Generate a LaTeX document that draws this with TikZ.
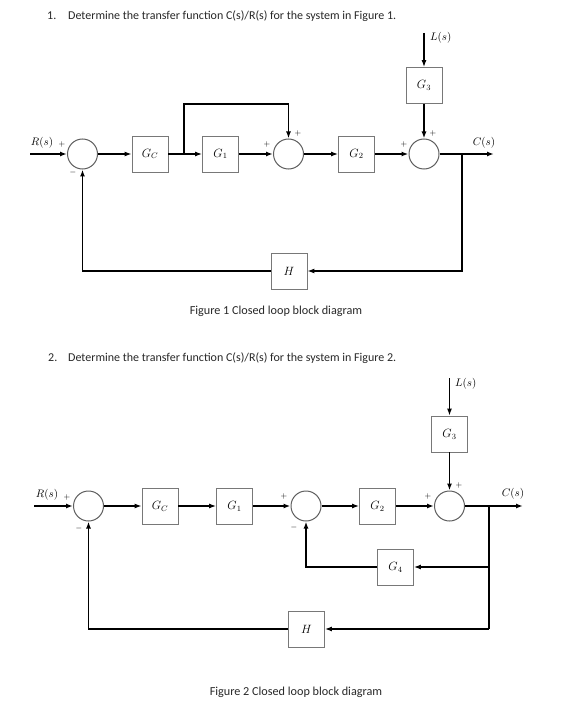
\documentclass[tikz,border=0pt]{standalone}
\usepackage{fontspec}
\newfontfamily\calib{Carlito}
\usetikzlibrary{arrows.meta}
\definecolor{boxgray}{RGB}{120,120,120}
\definecolor{sumgray}{RGB}{95,95,95}
\definecolor{txtc}{RGB}{40,40,40}
\begin{document}
\begin{tikzpicture}[x=1pt,y=-1pt,
  blk/.style={draw=boxgray, line width=0.8pt, minimum width=36pt, minimum height=36pt, inner sep=0pt, font=\fontsize{11.5}{13}\selectfont},
  sumj/.style={draw=sumgray, line width=1pt, circle, minimum size=30pt, inner sep=0pt},
  sig/.style={line width=1.5pt, -{Latex[length=7pt,width=5pt]}},
  sgn/.style={font=\fontsize{8}{9}\selectfont, inner sep=0pt},
  lbl/.style={font=\fontsize{11}{13}\selectfont, inner sep=0pt},
  txt/.style={font=\calib\fontsize{12}{14}\selectfont, text=txtc, inner sep=0pt, anchor=west},
  captxt/.style={font=\calib\fontsize{12.2}{14}\selectfont, text=txtc, inner sep=0pt}
]
\fill[white] (0,0) rectangle (576,714);
\useasboundingbox (0,0) rectangle (576,714);

% ---------------- Figure 1 ----------------
\node[txt] (q1n) at (47,16) {1.};
\node[txt] (q1) at (68,16) {Determine the transfer function C(s)/R(s) for the system in Figure 1.};
\coordinate (a_in) at (30,154);
\node[sumj] (a_s1) at (82.5,154) {};
\node[blk] (a_gc) at (150,154) {$G_C$};
\coordinate (a_b1) at (184,154);
\node[blk] (a_g1) at (220.5,154) {$G_1$};
\node[sumj] (a_s2) at (288.5,154) {};
\node[blk] (a_g2) at (356.5,154) {$G_2$};
\node[sumj] (a_s3) at (424,154) {};
\node[blk] (a_g3) at (424,85.5) {$G_3$};
\coordinate (a_L) at (424,33);
\coordinate (a_b2) at (462,154);
\coordinate (a_out) at (494,154);
\node[blk] (a_h) at (289,271) {$H$};
\coordinate (a_c1) at (184,104);
\coordinate (a_c2) at (288.5,104);
\coordinate (a_c3) at (462,271);
\coordinate (a_c4) at (82.5,271);

\draw[sig] (a_in) -- (a_s1);
\draw[sig] (a_s1) -- (a_gc);
\draw[sig] (a_gc) -- (a_g1);
\draw[sig] (a_g1) -- (a_s2);
\draw[sig] (a_b1) -- (a_c1) -- (a_c2) -- (a_s2);
\draw[sig] (a_s2) -- (a_g2);
\draw[sig] (a_g2) -- (a_s3);
\draw[sig] (a_L) -- (a_g3);
\draw[sig] (a_g3) -- (a_s3);
\draw[sig] (a_s3) -- (a_out);
\draw[sig] (a_b2) -- (a_c3) -- (a_h);
\draw[sig] (a_h) -- (a_c4) -- (a_s1);

\node[lbl] (a_R) at (42,143) {$R(s)$};
\node[sgn] (a_p1) at (62,145) {$+$};
\node[sgn] (a_m1) at (73,173) {$-$};
\node[sgn] (a_p2) at (267,145) {$+$};
\node[sgn] (a_p3) at (298,134) {$+$};
\node[sgn] (a_p4) at (404,145) {$+$};
\node[sgn] (a_p5) at (433,134) {$+$};
\node[lbl, anchor=west] (a_Ll) at (430,38) {$L(s)$};
\node[lbl] (a_C) at (484,143) {$C(s)$};
\node[captxt] (cap1) at (276,311) {Figure 1 Closed loop block diagram};

% ---------------- Figure 2 ----------------
\node[txt] (q2n) at (48,358) {2.};
\node[txt] (q2) at (68,358) {Determine the transfer function C(s)/R(s) for the system in Figure 2.};
\coordinate (b_in) at (34,506);
\node[sumj] (b_s1) at (88.5,506) {};
\node[blk] (b_gc) at (160,506) {$G_C$};
\node[blk] (b_g1) at (234.5,506) {$G_1$};
\node[sumj] (b_s2) at (306,506) {};
\node[blk] (b_g2) at (377.5,506) {$G_2$};
\node[sumj] (b_s3) at (449.5,506) {};
\node[blk] (b_g3) at (449.5,434) {$G_3$};
\coordinate (b_L) at (449.5,378);
\coordinate (b_b2) at (489,506);
\coordinate (b_out) at (523,506);
\node[blk] (b_g4) at (395.5,567) {$G_4$};
\node[blk] (b_h) at (306.5,629) {$H$};
\coordinate (b_c1) at (489,567);
\coordinate (b_c2) at (306,567);
\coordinate (b_c3) at (489,629);
\coordinate (b_c4) at (88.5,629);

\draw[sig] (b_in) -- (b_s1);
\draw[sig] (b_s1) -- (b_gc);
\draw[sig] (b_gc) -- (b_g1);
\draw[sig] (b_g1) -- (b_s2);
\draw[sig] (b_s2) -- (b_g2);
\draw[sig] (b_g2) -- (b_s3);
\draw[sig] (b_L) -- (b_g3);
\draw[sig] (b_g3) -- (b_s3);
\draw[sig] (b_s3) -- (b_out);
\draw[line width=1.5pt] (b_b2) -- (b_c3);
\draw[sig] (b_c1) -- (b_g4);
\draw[sig] (b_g4) -- (b_c2) -- (b_s2);
\draw[sig] (b_c3) -- (b_h);
\draw[sig] (b_h) -- (b_c4) -- (b_s1);

\node[lbl] (b_R) at (47,495) {$R(s)$};
\node[sgn] (b_p1) at (67,497) {$+$};
\node[sgn] (b_m1) at (79,528) {$-$};
\node[sgn] (b_p2) at (284,496) {$+$};
\node[sgn] (b_m2) at (294,527) {$-$};
\node[sgn] (b_p4) at (428,496) {$+$};
\node[sgn] (b_p5) at (459,485) {$+$};
\node[lbl, anchor=west] (b_Ll) at (455,384) {$L(s)$};
\node[lbl] (b_C) at (513,494) {$C(s)$};
\node[captxt] (cap2) at (296,692) {Figure 2 Closed loop block diagram};
\end{tikzpicture}
\end{document}
